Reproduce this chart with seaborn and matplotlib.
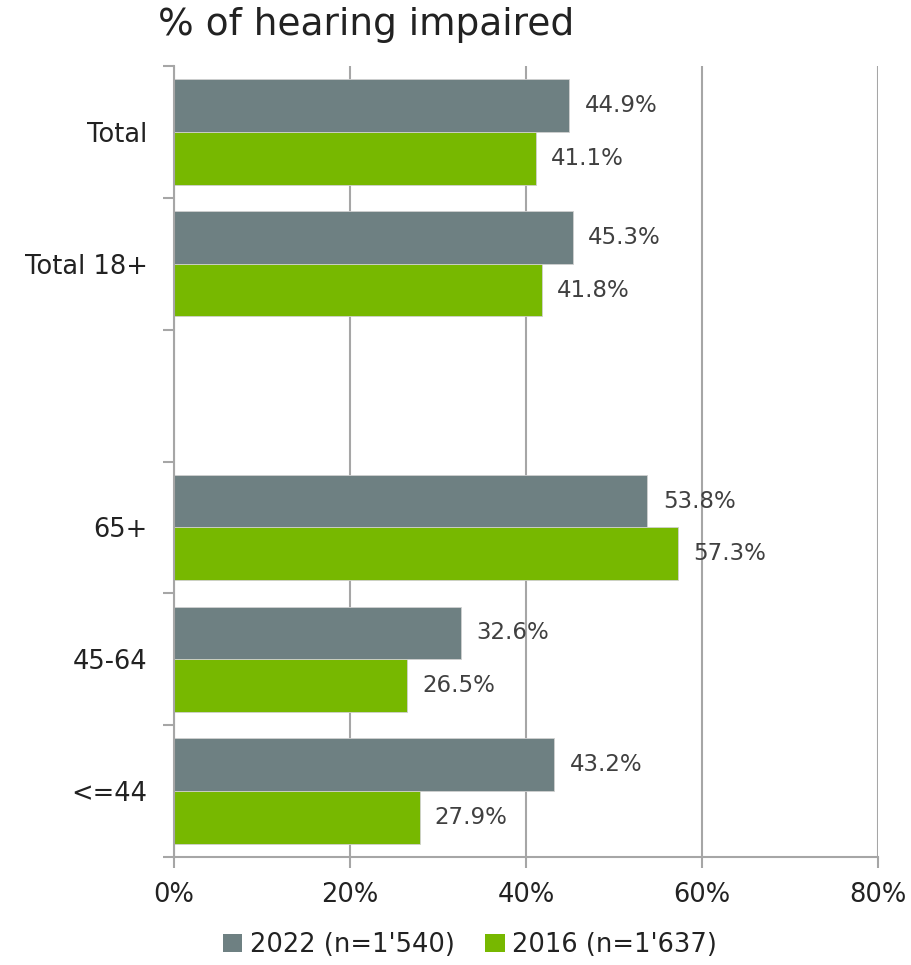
import matplotlib
matplotlib.use("Agg")
import matplotlib.pyplot as plt
import seaborn as sns
import pandas as pd
import numpy as np
from matplotlib.patches import Patch

categories = ["Total", "Total 18+", "", "65+", "45-64", "<=44"]
series_names = ["2022 (n=1'540)", "2016 (n=1'637)"]
values_2022 = [44.9, 45.3, np.nan, 53.8, 32.6, 43.2]
values_2016 = [41.1, 41.8, np.nan, 57.3, 26.5, 27.9]
x_ticks = [0, 20, 40, 60, 80]
x_tick_labels = ["0%", "20%", "40%", "60%", "80%"]
colors = ["#6E8082", "#77B800"]

rows = []
for c, v1, v2 in zip(categories, values_2022, values_2016):
    rows.append({"cat": c, "series": series_names[0], "val": v1})
    rows.append({"cat": c, "series": series_names[1], "val": v2})
df = pd.DataFrame(rows)

sns.set_style("white")
plt.rcParams['font.family'] = ['DejaVu Sans']

fig = plt.figure(figsize=(9.11, 9.65), dpi=100)
ax = fig.add_axes([174/911, 1-857/965, (878-174)/911, (857-66)/965])

sns.barplot(data=df, y="cat", x="val", hue="series", order=categories,
            hue_order=series_names, palette=colors, orient="h", width=0.8,
            saturation=1, ax=ax, legend=False, edgecolor="#d0d0d0", linewidth=0.6,
            errorbar=None)

ax.set_xlim(0, 80)
ax.set_ylim(len(categories) - 0.5, -0.5)
ax.set_xticks(x_ticks)
ax.set_xticklabels(x_tick_labels, fontsize=18.5, color="#222222")
ax.set_yticks(range(len(categories)))
ax.set_yticklabels(categories, fontsize=18.5, color="#222222")
ax.tick_params(axis="y", which="major", length=0, pad=19)
ax.set_yticks(np.arange(-0.5, len(categories), 1.0), minor=True)
ax.tick_params(axis="y", which="minor", length=8, width=1.5, color="#a6a6a6", left=True)
ax.tick_params(axis="x", which="major", length=8, width=1.5, color="#a6a6a6", pad=10, bottom=True)
ax.set_xlabel("")
ax.set_ylabel("")

ax.grid(axis="x", color="#a6a6a6", linewidth=1.5)
ax.grid(axis="y", visible=False)
ax.set_axisbelow(True)
for s in ["top", "right"]:
    ax.spines[s].set_visible(False)
for s in ["left", "bottom"]:
    ax.spines[s].set_color("#a6a6a6")
    ax.spines[s].set_linewidth(1.5)

# data labels (from the drawn bars)
for bar in ax.patches:
    w = bar.get_width()
    if w is None or np.isnan(w) or w == 0:
        continue
    ax.annotate(f"{w:.1f}%", xy=(w, bar.get_y() + bar.get_height() / 2),
                xytext=(11, 0), textcoords="offset points", va="center", ha="left",
                fontsize=16.5, color="#404040")

fig.text(158/911, 1-25/965, "% of hearing impaired", fontsize=27, color="#222222",
         va="center", ha="left")

handles = [Patch(facecolor=c, edgecolor="none") for c in colors]
fig.legend(handles, series_names, loc="center", bbox_to_anchor=(470/911, 1-945/965),
           ncol=2, frameon=False, fontsize=18.5, handlelength=0.75, handleheight=0.75,
           handletextpad=0.3, columnspacing=1.2, labelcolor="#222222")

fig.savefig("out.png", dpi=100)
